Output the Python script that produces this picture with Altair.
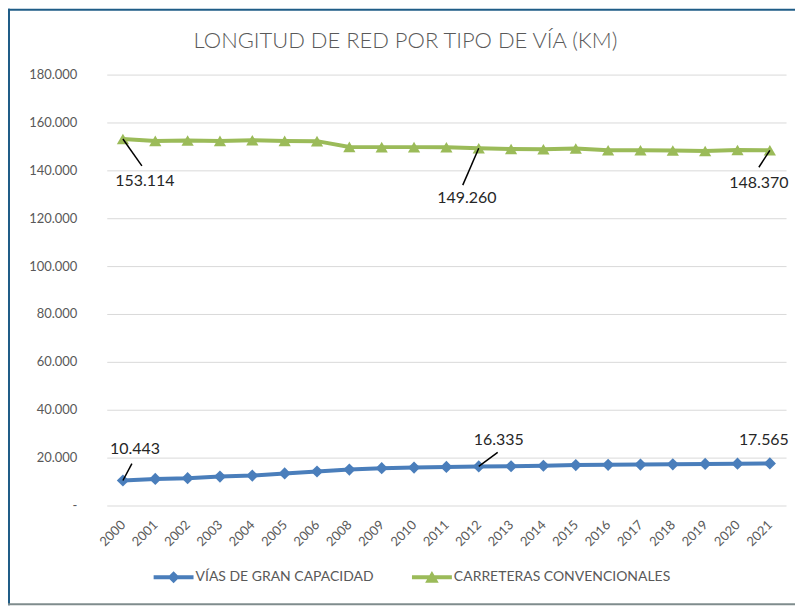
import altair as alt
import pandas as pd

# ---------------- data ----------------
years = ["2000", "2001", "2002", "2003", "2004", "2005", "2006", "2008", "2009", "2010",
         "2011", "2012", "2013", "2014", "2015", "2016", "2017", "2018", "2019", "2020", "2021"]
vias_gran_capacidad = [10443, 11100, 11400, 12100, 12500, 13400, 14200, 15000, 15600, 15850,
                       16100, 16335, 16400, 16600, 16900, 17000, 17100, 17200, 17350, 17450, 17565]
carreteras_convencionales = [153114, 152300, 152500, 152300, 152600, 152300, 152200, 149800, 149700, 149700,
                             149650, 149260, 148900, 148800, 149100, 148400, 148400, 148300, 148100, 148500, 148370]
series_names = ["VÍAS DE GRAN CAPACIDAD", "CARRETERAS CONVENCIONALES"]
y_ticks = [0, 20000, 40000, 60000, 80000, 100000, 120000, 140000, 160000, 180000]

# annotated points
ann_series = [1, 1, 1, 0, 0, 0]
ann_years = ["2000", "2012", "2021", "2000", "2012", "2021"]
ann_values = [153114, 149260, 148370, 10443, 16335, 17565]

# ---------------- style ----------------
colors = ["#4A7EBB", "#9BBB59"]
FONT = "Lato"
TXT = "#595959"
ann_dx = [22, -12, -11, 12, 20, -6]
ann_dy = [42, 50, 33, -32, -26, -23]
lead_dx = [19, -16, -11, 9, 19, None]
lead_dy = [27, 37, 17, -17, -14, None]

W, H = 681, 432
PAD = {"left": 99, "top": 66, "right": 9, "bottom": 100}

rows = []
for name, vals in zip(series_names, [vias_gran_capacidad, carreteras_convencionales]):
    for y, v in zip(years, vals):
        rows.append({"year": y, "value": v, "series": name})
df = pd.DataFrame(rows)

xenc = alt.X("year:N", sort=years,
             scale=alt.Scale(type="point", padding=0.5),
             axis=alt.Axis(title=None, labelAngle=-45, labelAlign="right", labelBaseline="middle",
                           labelPadding=17, grid=False, domain=False, ticks=False,
                           labelFont=FONT, labelFontSize=13, labelColor=TXT))
yenc = alt.Y("value:Q", scale=alt.Scale(domain=[0, 180000], nice=False, zero=True),
             axis=alt.Axis(title=None, values=y_ticks,
                           labelExpr="datum.value == 0 ? '-' : replace(format(datum.value, ','), ',', '.')",
                           labelPadding=30, grid=True, gridColor="#D9D9D9", gridWidth=1,
                           domain=False, ticks=False,
                           labelFont=FONT, labelFontSize=13, labelColor=TXT))
cscale = alt.Scale(domain=series_names, range=colors)
legend_cfg = alt.Legend(title=None, orient="none", direction="horizontal",
                        legendX=47, legendY=484, symbolSize=1600, symbolOpacity=1,
                        symbolStrokeWidth=0, labelFont=FONT, labelFontSize=14, labelLimit=0,
                        labelColor=TXT, labelOffset=2, columnPadding=38, padding=0)
cenc = alt.Color("series:N", scale=cscale, legend=legend_cfg)

base = alt.Chart(df)

lines = base.mark_line(strokeWidth=4).encode(x=xenc, y=yenc, color=cenc)

points = base.mark_point(filled=True, opacity=1, size=150).encode(
    x=xenc, y=yenc, color=cenc,
    shape=alt.condition(alt.datum.series == series_names[0], alt.value("diamond"), alt.value("triangle-up")))

legend_paths = [
    "M-1,-0.1L1,-0.1L1,0.1L-1,0.1Z M0,-0.3L0.3,0L0,0.3L-0.3,0Z",
    "M-1,-0.1L1,-0.1L1,0.1L-1,0.1Z M0,-0.32L0.34,0.27L-0.34,0.27Z",
]
legend_layer = base.mark_point(filled=True, opacity=0).encode(
    x=xenc, y=yenc, color=cenc,
    shape=alt.Shape("series:N", scale=alt.Scale(domain=series_names, range=legend_paths),
                    legend=legend_cfg))

layers = [lines, points, legend_layer]

# annotations
for i in range(len(ann_values)):
    adf = pd.DataFrame({"year": [ann_years[i]], "value": [ann_values[i]]})
    ach = alt.Chart(adf).transform_calculate(
        label="replace(format(datum.value, ','), ',', '.')")
    if lead_dx[i] is not None:
        layers.append(ach.mark_rule(color="#000000", strokeWidth=1.5,
                                    x2Offset=lead_dx[i], y2Offset=lead_dy[i]).encode(
            x=xenc, x2=alt.X2("year"), y=yenc, y2=alt.Y2("value")))
    layers.append(ach.mark_text(font=FONT, fontSize=16, color="#262626", align="center",
                                baseline="middle", dx=ann_dx[i], dy=ann_dy[i]).encode(
        x=xenc, y=yenc, text="label:N"))

# frame border
one = alt.InlineData(values=[{"k": 1}])
border_left = alt.Chart(one).mark_rule(color="#1F5C87", strokeWidth=2).encode(
    x=alt.value(-98), y=alt.value(-66), y2=alt.value(532))
border_top = alt.Chart(one).mark_rule(color="#1F5C87", strokeWidth=2).encode(
    x=alt.value(-99), x2=alt.value(690), y=alt.value(-65))
border_bottom = alt.Chart(one).mark_rule(color="#7F8C8D", strokeWidth=2).encode(
    x=alt.value(-99), x2=alt.value(690), y=alt.value(531))
layers += [border_left, border_top, border_bottom]

chart = alt.layer(*layers).properties(
    width=W, height=H, padding=PAD,
    autosize=alt.AutoSizeParams(type="none"),
    background="white",
    title=alt.TitleParams("LONGITUD DE RED POR TIPO DE VÍA (KM)", font=FONT, fontSize=22,
                          fontWeight=300, color=TXT, anchor="middle", frame="group",
                          baseline="bottom", dx=-41, offset=-67),
).configure_view(stroke=None)

chart.save("out.html", embed_options={"renderer": "svg", "actions": False})
